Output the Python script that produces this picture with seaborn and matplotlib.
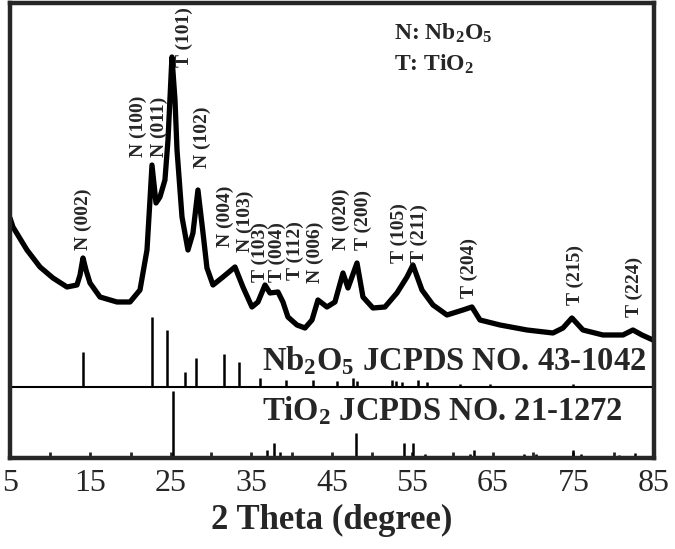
import numpy as np
import pandas as pd
import matplotlib
matplotlib.use('Agg')
import matplotlib.pyplot as plt
import seaborn as sns

# ---- data ----
# measured XRD pattern (2 theta in degree, intensity in a.u.)
two_theta = [5.00, 5.37, 7.11, 8.73, 10.34, 12.08, 13.32, 13.70, 14.07, 14.44,
             14.94, 16.18, 18.29, 19.91, 21.15, 22.02, 22.39, 22.64, 23.14, 23.63,
             24.25, 24.63, 25.12, 25.50, 25.75, 26.37, 27.11, 27.73, 28.35, 28.98,
             29.47, 30.22, 31.46, 32.95, 33.94, 35.06, 35.81, 36.68, 37.30, 38.29,
             38.91, 39.53, 40.65, 41.65, 42.52, 43.26, 44.38, 45.37, 46.37, 46.99,
             48.11, 48.85, 50.09, 51.58, 53.07, 54.32, 55.06, 56.18, 57.55, 59.29,
             61.27, 62.39, 63.39, 65.87, 69.22, 72.45, 73.70, 74.81, 76.18, 78.66,
             81.15, 82.39, 83.51, 84.88]
intensity = [240, 231, 208, 191, 180, 171, 173, 183, 200, 188,
             175, 161, 156, 156, 168, 208, 258, 293, 255, 261,
             278, 318, 401, 358, 308, 241, 208, 225, 268, 225,
             190, 173, 181, 191, 171, 151, 156, 173, 165, 166,
             156, 141, 133, 130, 138, 158, 151, 156, 185, 170,
             195, 161, 150, 151, 165, 181, 193, 168, 153, 143,
             148, 151, 138, 133, 128, 125, 130, 140, 128, 123,
             123, 128, 123, 118]

# Nb2O5 JCPDS 43-1042 reference lines
nb_pos = [14.1, 22.6, 24.5, 26.7, 28.1, 31.6, 33.4, 36.0, 39.3, 42.7,
          45.6, 47.6, 48.1, 52.4, 53.0, 53.7, 55.7, 56.8, 60.9, 64.6, 75.0]
nb_height = [35, 70, 57, 15, 29, 33, 25, 9, 7, 7,
             6, 9, 6, 7, 6, 5, 7, 5, 3, 3, 3]

# TiO2 JCPDS 21-1272 reference lines
ti_pos = [25.3, 36.9, 37.8, 38.6, 48.0, 53.9, 55.1, 56.6, 62.1, 62.7,
          68.8, 70.3, 75.0, 76.0, 80.7, 82.7]
ti_height = [67, 8, 15, 6, 25, 15, 15, 4, 4, 8,
             4, 4, 8, 4, 3, 5]

# peak labels
peak_labels = ['N (002)', 'N (100)', 'N (011)', 'T (101)', 'N (102)', 'N (004)',
               'N (103)', 'T (103)', 'T (004)', 'T (112)', 'N (006)', 'N (020)',
               'T (200)', 'T (105)', 'T (211)', 'T (204)', 'T (215)', 'T (224)']
label_x = [14.07, 20.9, 23.5, 26.7, 28.85, 31.7, 34.2, 36.06, 38.17, 40.4,
           42.9, 46.2, 48.85, 53.4, 55.9, 62.1, 75.2, 82.6]
label_y = [208, 301, 301, 391, 290, 211, 206, 176, 176, 178,
           175, 208, 208, 195, 195, 160, 153, 141]

x_ticks = [5, 15, 25, 35, 45, 55, 65, 75, 85]
divider = 71

# ---- plot ----
sns.set_theme(style='ticks')
plt.rcParams['font.family'] = ['Liberation Serif', 'DejaVu Serif']
plt.rcParams['mathtext.fontset'] = 'custom'
plt.rcParams['mathtext.rm'] = 'Liberation Serif:bold'
plt.rcParams['mathtext.it'] = 'Liberation Serif:bold'
plt.rcParams['mathtext.bf'] = 'Liberation Serif:bold'

fig = plt.figure(figsize=(6.75, 5.49), dpi=100)
ax = fig.add_axes([0.0148, 0.1658, 0.954, 0.8287])

df = pd.DataFrame({'2theta': two_theta, 'I': intensity})
sns.lineplot(data=df, x='2theta', y='I', color='black', linewidth=3.8, ax=ax)

ax.vlines(nb_pos, divider, [divider + h for h in nb_height], color='black', linewidth=1.8)
ax.vlines(ti_pos, 0, ti_height, color='black', linewidth=1.8)
ax.axhline(divider, color='black', linewidth=1.5)

for lab, xx, yy in zip(peak_labels, label_x, label_y):
    ax.text(xx, yy, lab, rotation=90, ha='center', va='bottom',
            fontsize=14, fontweight='bold')

ax.text(52.7, 425, 'N: Nb$_2$O$_5$', fontsize=17, fontweight='bold', va='center')
ax.text(52.7, 394, 'T: TiO$_2$', fontsize=17, fontweight='bold', va='center')
ax.text(36.3, 97, 'Nb$_2$O$_5$ JCPDS NO. 43-1042', fontsize=23.5, fontweight='bold', va='center')
ax.text(36.3, 47, 'TiO$_2$ JCPDS NO. 21-1272', fontsize=23.5, fontweight='bold', va='center')

ax.set_xlim(5, 85)
ax.set_ylim(0, 455)
ax.set_xticks(x_ticks)
ax.set_xticks([10, 20, 30, 40, 50, 60, 70, 80], minor=True)
ax.set_yticks([])
ax.tick_params(axis='x', which='both', direction='in', length=4, width=2, labelsize=23, pad=8)
ax.set_xlabel('2 Theta (degree)', fontsize=25, fontweight='bold', labelpad=4)
ax.set_ylabel('')
for s in ax.spines.values():
    s.set_linewidth(3.2)
    s.set_visible(True)

plt.savefig('out.png', dpi=100)
